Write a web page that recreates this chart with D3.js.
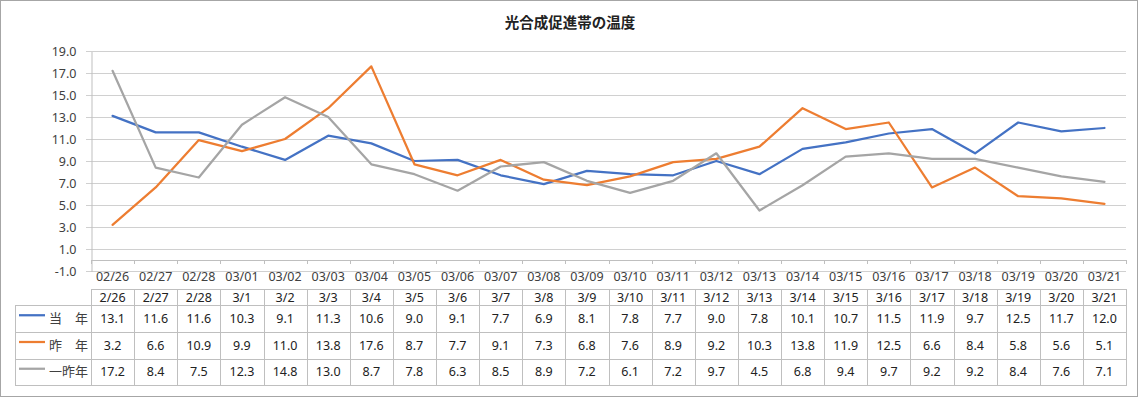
<!DOCTYPE html>
<html>
<head>
<meta charset="utf-8">
<script src="https://cdn.jsdelivr.net/npm/d3@7"></script>
<style>
  html, body { margin: 0; padding: 0; background: #fff; }
  svg { display: block; }
</style>
</head>
<body>
<svg id="chart" width="1140" height="400"></svg>
<script>
// ---- data ----
const title = "光合成促進帯の温度";
const axisDates = ["02/26","02/27","02/28","03/01","03/02","03/03","03/04","03/05","03/06","03/07","03/08","03/09","03/10","03/11","03/12","03/13","03/14","03/15","03/16","03/17","03/18","03/19","03/20","03/21"];
const tableDates = ["2/26","2/27","2/28","3/1","3/2","3/3","3/4","3/5","3/6","3/7","3/8","3/9","3/10","3/11","3/12","3/13","3/14","3/15","3/16","3/17","3/18","3/19","3/20","3/21"];
const seriesNames = ["当　年", "昨　年", "一昨年"];
const thisYear = [13.1,11.6,11.6,10.3,9.1,11.3,10.6,9.0,9.1,7.7,6.9,8.1,7.8,7.7,9.0,7.8,10.1,10.7,11.5,11.9,9.7,12.5,11.7,12.0];
const lastYear = [3.2,6.6,10.9,9.9,11.0,13.8,17.6,8.7,7.7,9.1,7.3,6.8,7.6,8.9,9.2,10.3,13.8,11.9,12.5,6.6,8.4,5.8,5.6,5.1];
const twoYearsAgo = [17.2,8.4,7.5,12.3,14.8,13.0,8.7,7.8,6.3,8.5,8.9,7.2,6.1,7.2,9.7,4.5,6.8,9.4,9.7,9.2,9.2,8.4,7.6,7.1];
const yTicks = [-1,1,3,5,7,9,11,13,15,17,19];
const colors = ["#4472C4", "#ED7D31", "#A5A5A5"];

const seriesValues = [thisYear, lastYear, twoYearsAgo];

// ---- layout ----
const svg = d3.select("#chart");
const numFont = "'Noto Sans', 'Noto Sans CJK JP', sans-serif";
const jpFont = "'Noto Sans CJK JP', 'Noto Sans', sans-serif";
const plotL = 91, plotR = 1126, plotT = 51, plotB = 271;
const tableL = 15;
const rowY = [289, 305, 331.5, 358.5, 385];
const fmt1 = v => d3.format(".1f")(v).replace("\u2212", "-");

// outer border
svg.append("rect")
  .attr("x", 0.5).attr("y", 0.5).attr("width", 1137).attr("height", 396)
  .attr("fill", "#fff").attr("stroke", "#a6a6a6").attr("stroke-width", 1);

// title
svg.append("text")
  .attr("x", 570).attr("y", 28)
  .attr("text-anchor", "middle")
  .attr("font-family", jpFont)
  .attr("font-size", 14.5).attr("font-weight", "bold")
  .attr("fill", "#222")
  .text(title);

const x = d3.scaleBand().domain(axisDates).range([plotL, plotR]).padding(0);
const y = d3.scaleLinear().domain([-1, 19]).range([plotB, plotT]);

// gridlines
svg.append("g").selectAll("line").data(yTicks).join("line")
  .attr("x1", plotL - 5).attr("x2", plotR)
  .attr("y1", d => Math.round(y(d)) + 0.5).attr("y2", d => Math.round(y(d)) + 0.5)
  .attr("stroke", "#d0d0d0").attr("stroke-width", 1);

// y axis
const yAxis = d3.axisLeft(y).tickValues(yTicks).tickFormat(fmt1).tickSize(0).tickPadding(15);
const gy = svg.append("g").attr("transform", `translate(${plotL + 0.5},0.5)`).call(yAxis);
gy.select(".domain").attr("stroke", "#bfbfbf");
gy.selectAll("text").attr("font-family", numFont).attr("font-size", 12.5).attr("fill", "#404040");
gy.selectAll("text").attr("y", d => Math.round(y(d)) - y(d));

// x axis at value 0 with boundary ticks
svg.append("line")
  .attr("x1", plotL).attr("x2", plotR)
  .attr("y1", Math.round(y(0)) + 0.5).attr("y2", Math.round(y(0)) + 0.5)
  .attr("stroke", "#bfbfbf").attr("stroke-width", 1);
const boundaries = axisDates.map(d => x(d)).concat([plotR]);
svg.append("g").selectAll("line").data(boundaries).join("line")
  .attr("x1", d => Math.round(d) + 0.5).attr("x2", d => Math.round(d) + 0.5)
  .attr("y1", Math.round(y(0))).attr("y2", Math.round(y(0)) + 4)
  .attr("stroke", "#bfbfbf");

// category labels
svg.append("g").selectAll("text").data(axisDates).join("text")
  .attr("x", d => x(d) + x.bandwidth() / 2)
  .attr("y", 281)
  .attr("text-anchor", "middle")
  .attr("font-family", numFont).attr("font-size", 12.5)
  .attr("fill", "#404040")
  .text(d => d);

// series lines
const line = d3.line()
  .x((d, i) => x(axisDates[i]) + x.bandwidth() / 2)
  .y(d => y(d));
svg.append("g").selectAll("path").data(seriesValues).join("path")
  .attr("d", d => line(d))
  .attr("fill", "none")
  .attr("stroke", (d, i) => colors[i])
  .attr("stroke-width", 2.25)
  .attr("stroke-linejoin", "round")
  .attr("stroke-linecap", "round");

// ---- data table ----
const tbl = svg.append("g").attr("stroke", "#bfbfbf").attr("stroke-width", 1);
// horizontal lines
tbl.append("line").attr("x1", plotL).attr("x2", plotR).attr("y1", rowY[0] + 0.5).attr("y2", rowY[0] + 0.5);
for (let r = 1; r < rowY.length; r++) {
  tbl.append("line").attr("x1", tableL).attr("x2", plotR)
    .attr("y1", Math.round(rowY[r]) + 0.5).attr("y2", Math.round(rowY[r]) + 0.5);
}
// vertical lines
tbl.selectAll("line.v").data(boundaries).join("line").attr("class", "v")
  .attr("x1", d => Math.round(d) + 0.5).attr("x2", d => Math.round(d) + 0.5)
  .attr("y1", rowY[0]).attr("y2", Math.round(rowY[4]) + 1);
tbl.append("line").attr("x1", tableL + 0.5).attr("x2", tableL + 0.5)
  .attr("y1", rowY[1]).attr("y2", Math.round(rowY[4]) + 1);

// header
svg.append("g").selectAll("text").data(tableDates).join("text")
  .attr("x", (d, i) => x(axisDates[i]) + x.bandwidth() / 2)
  .attr("y", 301.5)
  .attr("text-anchor", "middle")
  .attr("font-family", numFont).attr("font-size", 12.5)
  .attr("fill", "#222")
  .text(d => d);

// rows
const baselines = [323, 349.5, 376];
seriesValues.forEach((vals, s) => {
  const g = svg.append("g");
  g.selectAll("text").data(vals).join("text")
    .attr("x", (d, i) => x(axisDates[i]) + x.bandwidth() / 2)
    .attr("y", baselines[s])
    .attr("text-anchor", "middle")
    .attr("font-family", numFont).attr("font-size", 12.5)
    .attr("fill", "#222")
    .text(d => fmt1(d));
  const midY = (rowY[s + 1] + rowY[s + 2]) / 2 - 3;
  g.append("line")
    .attr("x1", 19).attr("x2", 45).attr("y1", midY).attr("y2", midY)
    .attr("stroke", colors[s]).attr("stroke-width", 2.25);
  g.append("text")
    .attr("x", 88).attr("y", baselines[s])
    .attr("text-anchor", "end")
    .attr("font-family", jpFont).attr("font-size", 13)
    .attr("fill", "#404040")
    .text(seriesNames[s]);
});
</script>
</body>
</html>
